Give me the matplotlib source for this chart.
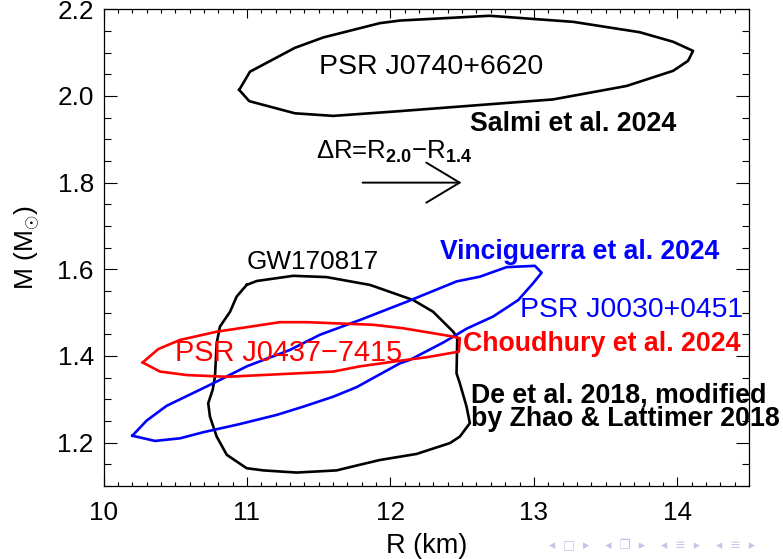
import matplotlib
matplotlib.use('Agg')
import matplotlib.pyplot as plt
from matplotlib.ticker import MultipleLocator, FormatStrFormatter
import numpy as np

plt.rcParams['font.family'] = ['Liberation Sans', 'DejaVu Sans']
plt.rcParams['mathtext.fontset'] = 'custom'
plt.rcParams['mathtext.rm'] = 'Liberation Sans'
plt.rcParams['mathtext.bf'] = 'Liberation Sans:bold'
plt.rcParams['mathtext.it'] = 'Liberation Sans:italic'
plt.rcParams['mathtext.sf'] = 'Liberation Sans'

# ---------------- data (R in km, M in Msun) ----------------
j0740_R = [10.946, 11.021, 11.334, 11.532, 11.927, 12.066, 12.693, 13.274, 13.739,
           13.971, 14.110, 14.075, 13.971, 13.646, 13.134, 12.066, 11.601, 11.334, 11.016]
j0740_M = [2.014, 2.056, 2.111, 2.135, 2.168, 2.174, 2.185, 2.171, 2.147,
           2.125, 2.104, 2.081, 2.058, 2.023, 1.992, 1.965, 1.954, 1.960, 1.988]

gw_R = [10.998, 11.068, 11.323, 11.555, 11.857, 11.927, 12.159, 12.298, 12.438, 12.466,
        12.461, 12.484, 12.531, 12.554, 12.484, 12.415, 12.183, 11.927, 11.787, 11.625,
        11.346, 11.114, 10.998, 10.859, 10.789, 10.742, 10.730, 10.761, 10.777, 10.789,
        10.812, 10.882, 10.928]
gw_M = [1.564, 1.573, 1.585, 1.582, 1.564, 1.556, 1.529, 1.502, 1.456, 1.441,
        1.360, 1.337, 1.283, 1.245, 1.214, 1.199, 1.174, 1.160, 1.149, 1.136,
        1.131, 1.136, 1.141, 1.172, 1.214, 1.260, 1.291, 1.322, 1.352, 1.430,
        1.468, 1.502, 1.537]

j0437_R = [10.273, 10.382, 10.533, 10.789, 11.230, 11.416, 11.880, 12.089, 12.415, 12.484,
           12.477, 12.252, 12.066, 11.787, 11.601, 11.230, 10.859, 10.580, 10.394]
j0437_M = [1.385, 1.416, 1.437, 1.456, 1.478, 1.478, 1.472, 1.464, 1.446, 1.441,
           1.410, 1.397, 1.389, 1.376, 1.364, 1.358, 1.352, 1.356, 1.364]

j0030_R = [10.201, 10.301, 10.440, 10.765, 10.998, 11.300, 11.509, 11.787, 12.113, 12.461,
           12.624, 12.810, 13.007, 13.054, 12.995, 12.891, 12.716, 12.531, 12.461, 12.368,
           12.136, 12.066, 11.764, 11.601, 11.392, 11.207, 10.951, 10.695, 10.533, 10.359]
j0030_M = [1.216, 1.251, 1.285, 1.337, 1.376, 1.414, 1.449, 1.483, 1.525, 1.572,
           1.583, 1.605, 1.608, 1.592, 1.568, 1.529, 1.491, 1.463, 1.449, 1.431,
           1.391, 1.383, 1.328, 1.306, 1.283, 1.264, 1.243, 1.224, 1.210, 1.204]

x_ticks = [10, 11, 12, 13, 14]
y_ticks = [1.2, 1.4, 1.6, 1.8, 2.0, 2.2]

BLUE = '#0000ff'
RED = '#ff0000'


def closed(a):
    return list(a) + [a[0]]


fig = plt.figure(figsize=(7.83, 5.59), dpi=100)
ax = fig.add_axes([0.1322, 0.1306, 0.8244, 0.8528])

lw = 1.9
ax.plot(closed(j0740_R), closed(j0740_M), color='black', lw=lw)
ax.plot(closed(gw_R), closed(gw_M), color='black', lw=lw)
ax.plot(closed(j0030_R), closed(j0030_M), color=BLUE, lw=lw)
ax.plot(closed(j0437_R), closed(j0437_M), color=RED, lw=lw)

ax.set_xlim(10, 14.5)
ax.set_ylim(1.1, 2.2)
ax.set_xticks(x_ticks)
ax.set_yticks(y_ticks)
ax.xaxis.set_minor_locator(MultipleLocator(0.1))
ax.yaxis.set_minor_locator(MultipleLocator(0.05))
ax.yaxis.set_major_formatter(FormatStrFormatter('%.1f'))
ax.tick_params(which='both', direction='in', top=True, right=True, width=0.8)
ax.tick_params(axis='x', which='major', length=6.7, pad=11, labelsize=18.8)
ax.tick_params(axis='x', which='minor', length=3.2)
ax.tick_params(axis='y', which='major', length=9.4, pad=7, labelsize=18.8)
ax.tick_params(axis='y', which='minor', length=4.7)
for s in ax.spines.values():
    s.set_linewidth(0.9)

ax.set_xlabel('R (km)', fontsize=19.5, va='baseline')
ax.xaxis.set_label_coords(0.5, -0.1405)
ax.set_ylabel(r'M (M$_{\odot}$)', fontsize=19)
ax.yaxis.set_label_coords(-0.095, 0.5)

# labels
ax.text(11.502, 2.051, 'PSR J0740+6620', fontsize=20.5, ha='left', va='baseline')
ax.text(12.554, 1.918, 'Salmi et al. 2024', fontsize=19.3, fontweight='bold',
        ha='left', va='baseline')
ax.text(11.48, 1.854, r'ΔR=R$_{\mathbf{2.0}}$−R$_{\mathbf{1.4}}$', fontsize=18.5,
        ha='left', va='baseline')
ax.annotate('', xy=(12.496, 1.8), xytext=(11.806, 1.8),
            arrowprops=dict(arrowstyle='->,head_length=2.4,head_width=1.44',
                            lw=1.4, color='black', shrinkA=0, shrinkB=0))
ax.text(10.998, 1.600, 'GW170817', fontsize=18.8, ha='left', va='baseline')
ax.text(12.345, 1.623, 'Vinciguerra et al. 2024', fontsize=19.1, fontweight='bold',
        color=BLUE, ha='left', va='baseline', clip_on=False)
ax.text(12.902, 1.4895, 'PSR J0030+0451', fontsize=20.4, color=BLUE,
        ha='left', va='baseline', clip_on=False)
ax.text(12.505, 1.4125, 'Choudhury et al. 2024', fontsize=19.3, fontweight='bold',
        color=RED, ha='left', va='baseline', clip_on=False)
ax.text(10.498, 1.389, 'PSR J0437−7415', fontsize=20.8, color=RED,
        ha='left', va='baseline')
# two-line label; with va='baseline' the anchor is the baseline of the last line
ax.text(12.564, 1.2394, 'De et al. 2018, modified\nby Zhao & Lattimer 2018',
        fontsize=19.3, fontweight='bold', ha='left', va='baseline',
        linespacing=0.85, clip_on=False)

# beamer navigation symbols
fig.text(652 / 783, 1 - 546 / 559, '◂  □  ▸    ◂  ❐  ▸    ◂  ≡  ▸    ◂  ≡  ▸',
         fontsize=9, color='#c4c4e8', ha='center', va='center', family=['DejaVu Sans'])

fig.savefig('out.png', dpi=100)
